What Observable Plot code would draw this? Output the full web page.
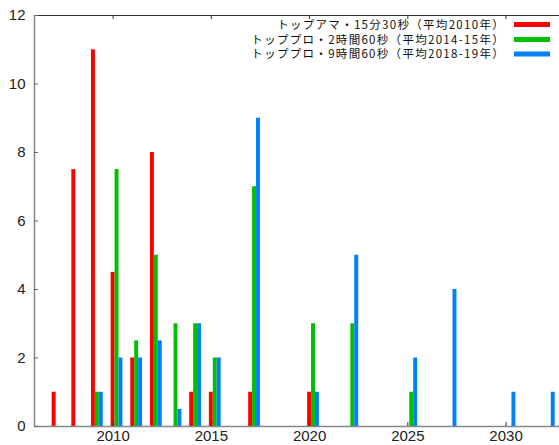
<!DOCTYPE html>
<html>
<head>
<meta charset="utf-8">
<script src="https://cdn.jsdelivr.net/npm/d3@7"></script>
<script src="https://cdn.jsdelivr.net/npm/@observablehq/plot@0.6"></script>
<style>
  html, body { margin: 0; padding: 0; background: #fff; }
</style>
</head>
<body>
<div id="chart"></div>
<script>
// ---- data ----
const seriesNames = [
  "トップアマ・15分30秒（平均2010年）",
  "トッププロ・2時間60秒（平均2014-15年）",
  "トッププロ・9時間60秒（平均2018-19年）"
];
const seriesColors = ["#ff0000", "#00c000", "#0080ff"];

const redYears   = [2007, 2008, 2009, 2010, 2011, 2012, 2014, 2015, 2017, 2020];
const redValues  = [1, 7.5, 11, 4.5, 2, 8, 1, 1, 1, 1];

const greenYears  = [2009, 2010, 2011, 2012, 2013, 2014, 2015, 2017, 2020, 2022, 2025];
const greenValues = [1, 7.5, 2.5, 5, 3, 3, 2, 7, 3, 3, 1];

const blueYears  = [2009, 2010, 2011, 2012, 2013, 2014, 2015, 2017, 2020, 2022, 2025, 2027, 2030, 2032];
const blueValues = [1, 2, 2, 2.5, 0.5, 3, 2, 9, 1, 5, 2, 4, 1, 1];

const xTicks = [2010, 2015, 2020, 2025, 2030];
const yTicks = [0, 2, 4, 6, 8, 10, 12];

// ---- build table ----
const seriesYears = [redYears, greenYears, blueYears];
const seriesValues = [redValues, greenValues, blueValues];
const barOffset = [0, 0.2, 0.4];   // side-by-side placement in years
const barHalf = 0.1;
const data = seriesYears.flatMap((ys, i) =>
  ys.map((yr, j) => ({ year: yr, value: seriesValues[i][j], series: seriesNames[i], i }))
);

const W = 559, H = 445;
const mL = 34, mR = 0, mT = 15, mB = 19;
const frameH = H - mT - mB;
const frameW = W - mL - mR;
const xDomain = [2006, 2032.72];
const tickFont = "'Liberation Sans Narrow', 'Liberation Sans', 'DejaVu Sans Condensed', sans-serif";

const plot = Plot.plot({
  width: W,
  height: H,
  marginLeft: mL,
  marginRight: mR,
  marginTop: mT,
  marginBottom: mB,
  style: { fontFamily: tickFont, fontStretch: "condensed", fontSize: "15px", background: "#fff", color: "#222", overflow: "visible" },
  x: { domain: xDomain, axis: null, label: null },
  y: { domain: [0, 12], axis: null, label: null },
  color: { domain: seriesNames, range: seriesColors },
  marks: [
    Plot.rect(data, {
      x1: d => d.year + barOffset[d.i] - barHalf,
      x2: d => d.year + barOffset[d.i] + barHalf,
      y1: 0,
      y2: "value",
      fill: "series"
    }),
    // border lines
    Plot.ruleY([12], { stroke: "#333", strokeWidth: 1 }),
    Plot.ruleY([0], { stroke: "#888", strokeWidth: 1.5 }),
    Plot.ruleX([xDomain[0]], { stroke: "#888", strokeWidth: 1.5 }),
    // inward ticks
    Plot.ruleX(xTicks, { stroke: "#333", insetTop: frameH - 4 }),
    Plot.ruleX(xTicks, { stroke: "#333", insetBottom: frameH - 4 }),
    Plot.ruleY(yTicks, { stroke: "#666", insetRight: frameW - 4 }),
    // axis labels
    Plot.axisX(xTicks, { tickSize: 0, tickPadding: 4, label: null, tickFormat: d => String(d), fontSize: 15 }),
    Plot.axisY(yTicks, { tickSize: 0, tickPadding: 9, label: null, fontSize: 15 })
  ]
});

document.getElementById("chart").appendChild(plot);

// ---- legend (top-right, inside the frame) ----
const svg = d3.select(plot);
const lg = svg.append("g").attr("class", "legend");
const rowY = [24.5, 39.5, 54];
seriesNames.forEach((name, i) => {
  lg.append("text")
    .attr("x", 505)
    .attr("y", rowY[i])
    .attr("dy", "0.35em")
    .attr("text-anchor", "end")
    .attr("font-family", "'Noto Sans CJK JP', sans-serif")
    .attr("font-stretch", "normal")
    .attr("font-size", 11.5)
    .attr("letter-spacing", "1.3px")
    .attr("fill", "#111")
    .text(name);
  lg.append("rect")
    .attr("x", 514)
    .attr("y", rowY[i] - 2.5)
    .attr("width", 36)
    .attr("height", 5)
    .attr("fill", seriesColors[i]);
});
</script>
</body>
</html>
